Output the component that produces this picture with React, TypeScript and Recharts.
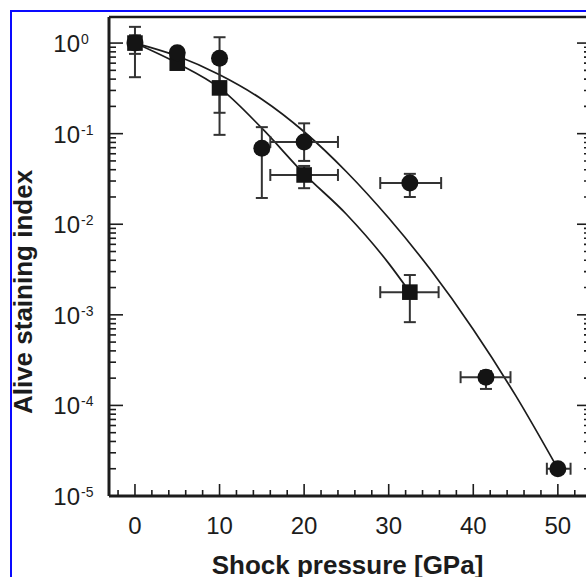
import React from "react";
import { ComposedChart, XAxis, YAxis, Line, Scatter, ErrorBar } from "recharts";

// circles
const circleX = [0, 5, 10, 15, 20, 32.5, 41.5, 50];
const circleY = [1.0, 0.78, 0.68, 0.069, 0.081, 0.0285, 0.000205, 0.00002];
const circleYLow = [0.76, 0.78, 0.17, 0.0195, 0.05, 0.02, 0.000152, 0.00002];
const circleYHigh = [1.22, 0.78, 1.16, 0.118, 0.13, 0.036, 0.00024, 0.00002];
const circleXLow = [0, 5, 10, 15, 16, 29, 38.5, 48.7];
const circleXHigh = [0, 5, 10, 15, 24, 36.2, 44.4, 51.5];

// squares
const squareX = [0, 5, 10, 20, 32.5];
const squareY = [1.0, 0.6, 0.32, 0.035, 0.00178];
const squareYLow = [0.42, 0.6, 0.097, 0.025, 0.00083];
const squareYHigh = [1.51, 0.6, 0.6, 0.044, 0.00275];
const squareXLow = [0, 5, 10, 16, 29];
const squareXHigh = [0, 5, 10, 24, 35.9];

// fitted curves
const upperFitX = [0, 5, 10, 15, 20, 25, 30, 35, 40, 45, 50];
const upperFitY = [1.0, 0.72, 0.447, 0.24, 0.105, 0.038, 0.0117, 0.0031, 0.00069, 0.000129, 0.00002];
const lowerFitX = [0, 5, 10, 15, 20, 25, 30, 32.5];
const lowerFitY = [1.0, 0.6, 0.32, 0.115, 0.036, 0.0129, 0.0037, 0.00178];

// axes
const xDomain = [-3.07, 53.8];
const yDomain = [0.00001, 1.94];
const xMajorTicks = [0, 10, 20, 30, 40, 50];
const xMinorTicks = [-2, 2, 4, 6, 8, 12, 14, 16, 18, 22, 24, 26, 28, 32, 34, 36, 38, 42, 44, 46, 48, 52];
const yMajorTicks = [1, 0.1, 0.01, 0.001, 0.0001, 0.00001];
const yExponents = ["0", "-1", "-2", "-3", "-4", "-5"];
const yMinorFactors = [2, 3, 4, 5, 6, 7, 8, 9];

const FONT = "'Liberation Sans', Arial, Helvetica, sans-serif";
const INK = "#1c1c1c";

const circleRows = circleX.map((x, i) => ({
  x,
  y: circleY[i],
  ex: [x - circleXLow[i], circleXHigh[i] - x],
  ey: [circleY[i] - circleYLow[i], circleYHigh[i] - circleY[i]],
}));
const squareRows = squareX.map((x, i) => ({
  x,
  y: squareY[i],
  ex: [x - squareXLow[i], squareXHigh[i] - x],
  ey: [squareY[i] - squareYLow[i], squareYHigh[i] - squareY[i]],
}));
const upperFit = upperFitX.map((x, i) => ({ x, y: upperFitY[i] }));
const lowerFit = lowerFitX.map((x, i) => ({ x, y: lowerFitY[i] }));

const xTicks = [...xMajorTicks, ...xMinorTicks].sort((a, b) => a - b);
const yMinorTicks = yMajorTicks.slice(1).flatMap((d) => yMinorFactors.map((k) => k * d));
const yTicks = [...yMajorTicks, ...yMinorTicks].sort((a, b) => a - b);

const isXMajor = (v: number) => xMajorTicks.includes(v);
const majorIndex = (v: number) => yMajorTicks.findIndex((m) => Math.abs(m - v) / m < 1e-6);

const BottomTick = (props: any) => {
  const { x, y, payload } = props;
  const major = isXMajor(payload.value);
  return (
    <g>
      <line x1={x} x2={x} y1={y} y2={y - (major ? 12 : 6)} stroke={INK} strokeWidth={1.6} />
      {major && (
        <text x={x} y={y + 38} textAnchor="middle" fontSize={24} fontFamily={FONT} fill={INK}>
          {payload.value}
        </text>
      )}
    </g>
  );
};

const TopTick = (props: any) => {
  const { x, y, payload } = props;
  const major = isXMajor(payload.value);
  return <line x1={x} x2={x} y1={y} y2={y + (major ? 14 : 7)} stroke={INK} strokeWidth={1.6} />;
};

const LeftTick = (props: any) => {
  const { x, y, payload } = props;
  const idx = majorIndex(payload.value);
  const major = idx >= 0;
  return (
    <g>
      <line x1={x} x2={x + (major ? 14 : 7)} y1={y} y2={y} stroke={INK} strokeWidth={1.6} />
      {major && (
        <g fontFamily={FONT} fill={INK}>
          <text x={x - 29} y={y + 9} textAnchor="end" fontSize={24}>
            10
          </text>
          <text x={x - 28} y={y + 1} fontSize={14}>
            {yExponents[idx]}
          </text>
        </g>
      )}
    </g>
  );
};

const RightTick = (props: any) => {
  const { x, y, payload } = props;
  const major = majorIndex(payload.value) >= 0;
  return <line x1={x} x2={x - (major ? 13 : 6)} y1={y} y2={y} stroke={INK} strokeWidth={1.6} />;
};

const XTitle = (props: any) => {
  const { viewBox } = props;
  return (
    <text
      x={viewBox.x + viewBox.width / 2 - 2}
      y={viewBox.y + 78}
      textAnchor="middle"
      fontSize={26}
      fontWeight="bold"
      fontFamily={FONT}
      fill={INK}
    >
      Shock pressure [GPa]
    </text>
  );
};

const YTitle = (props: any) => {
  const { viewBox } = props;
  const cx = 32;
  const cy = viewBox.y + 275;
  return (
    <text
      x={cx}
      y={cy}
      transform={`rotate(-90 ${cx} ${cy})`}
      textAnchor="middle"
      fontSize={26}
      fontWeight="bold"
      fontFamily={FONT}
      fill={INK}
    >
      Alive staining index
    </text>
  );
};

const CircleDot = (props: any) => <circle cx={props.cx} cy={props.cy} r={8.5} fill="#141414" />;
const SquareDot = (props: any) => (
  <rect x={props.cx - 7.8} y={props.cy - 7.8} width={15.6} height={15.6} fill="#141414" />
);

export default function App() {
  return (
    <div
      style={{
        position: "absolute",
        left: 0,
        top: 0,
        width: 586,
        height: 577,
        overflow: "hidden",
        background: "#fff",
      }}
    >
      <div
        style={{
          position: "absolute",
          left: 10,
          top: 10,
          width: 700,
          height: 700,
          borderLeft: "2px solid #0a0aff",
          borderTop: "2px solid #0a0aff",
        }}
      />
      <div style={{ position: "absolute", left: 0, top: 0 }}>
        <ComposedChart width={600} height={577} margin={{ top: 16, right: 9, bottom: 0, left: 0 }}>
          <XAxis
            dataKey="x"
            type="number"
            domain={xDomain}
            allowDataOverflow
            ticks={xTicks}
            interval={0}
            height={81}
            tickSize={0}
            tickMargin={0}
            tickLine={false}
            axisLine={{ stroke: INK, strokeWidth: 3 }}
            tick={<BottomTick />}
            label={<XTitle />}
          />
          <XAxis
            xAxisId="top"
            orientation="top"
            type="number"
            domain={xDomain}
            allowDataOverflow
            ticks={xTicks}
            interval={0}
            height={1}
            tickSize={0}
            tickMargin={0}
            tickLine={false}
            axisLine={{ stroke: INK, strokeWidth: 2.5 }}
            tick={<TopTick />}
          />
          <YAxis
            type="number"
            scale="log"
            domain={yDomain}
            allowDataOverflow
            ticks={yTicks}
            interval={0}
            width={109}
            tickSize={0}
            tickMargin={0}
            tickLine={false}
            axisLine={{ stroke: INK, strokeWidth: 3 }}
            tick={<LeftTick />}
            label={<YTitle />}
          />
          <YAxis
            yAxisId="right"
            orientation="right"
            type="number"
            scale="log"
            domain={yDomain}
            allowDataOverflow
            ticks={yTicks}
            interval={0}
            width={1}
            tickSize={0}
            tickMargin={0}
            tickLine={false}
            axisLine={{ stroke: INK, strokeWidth: 2.5 }}
            tick={<RightTick />}
          />
          <Line
            data={upperFit}
            dataKey="y"
            type="monotone"
            dot={false}
            stroke={INK}
            strokeWidth={1.7}
            isAnimationActive={false}
          />
          <Line
            data={lowerFit}
            dataKey="y"
            type="monotone"
            dot={false}
            stroke={INK}
            strokeWidth={1.7}
            isAnimationActive={false}
          />
          <Scatter data={squareRows} dataKey="y" shape={<SquareDot />} isAnimationActive={false}>
            <ErrorBar dataKey="ey" direction="y" width={6} stroke="#333" strokeWidth={2} />
            <ErrorBar dataKey="ex" direction="x" width={6} stroke="#333" strokeWidth={2} />
          </Scatter>
          <Scatter data={circleRows} dataKey="y" shape={<CircleDot />} isAnimationActive={false}>
            <ErrorBar dataKey="ey" direction="y" width={6} stroke="#333" strokeWidth={2} />
            <ErrorBar dataKey="ex" direction="x" width={6} stroke="#333" strokeWidth={2} />
          </Scatter>
        </ComposedChart>
      </div>
    </div>
  );
}
